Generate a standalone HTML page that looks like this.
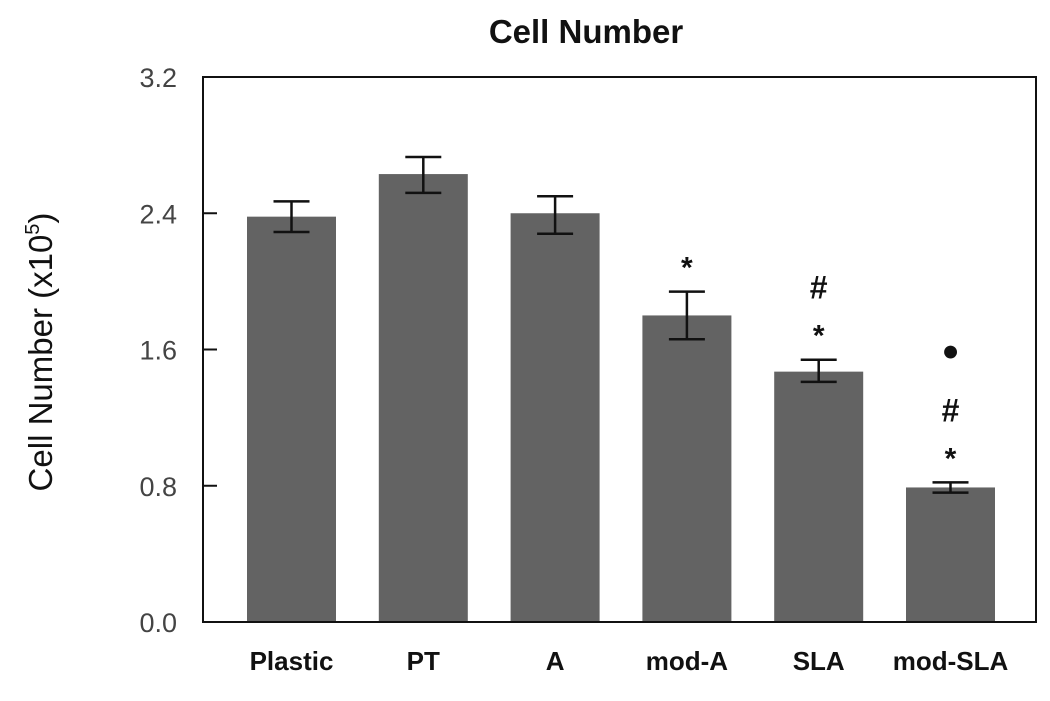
<!DOCTYPE html>
<html><head><meta charset="utf-8"><style>
body{margin:0;background:#fff;width:1050px;height:696px;overflow:hidden}
svg{font-family:"Liberation Sans",Arial,sans-serif}
</style></head><body>
<svg id="chart" width="1050" height="696" viewBox="0 0 1050 696">
<text x="586" y="43" text-anchor="middle" font-size="33" font-weight="bold" fill="#111">Cell Number</text>
<text transform="translate(52,352) rotate(-90)" text-anchor="middle" font-size="33" fill="#111">Cell Number (x10<tspan font-size="20" dy="-13">5</tspan><tspan dy="13">)</tspan></text>
<g id="plot"></g>
</svg>
<script>
const categories=["Plastic","PT","A","mod-A","SLA","mod-SLA"];
const values=[2.38,2.63,2.40,1.80,1.47,0.79];
const errUpper=[2.47,2.73,2.50,1.94,1.54,0.82];
const errLower=[2.29,2.52,2.28,1.66,1.41,0.76];
const marks=[[],[],[],["*"],["*","#"],["*","#","●"]];
const yTicks=[0.0,0.8,1.6,2.4,3.2];
const yTickLabels=["0.0","0.8","1.6","2.4","3.2"];
const NS="http://www.w3.org/2000/svg";
const L=203,R=1036,T=77,B=622,ymax=3.2;
const y=v=>B-(v/ymax)*(B-T);
const step=131.8,bw=89,x0=247;
const xc=i=>x0+bw/2+i*step;
const markOff={"*":0,"#":-47,"●":-108};
const g=document.getElementById('plot');
function mk(t,a){const e=document.createElementNS(NS,t);for(const k in a)e.setAttribute(k,a[k]);g.appendChild(e);return e;}
categories.forEach((c,i)=>{
 const b=mk('rect',{x:xc(i)-bw/2,y:y(values[i]),width:bw,height:B-y(values[i]),fill:'#636363'});
 
 
 const eg=mk('path',{d:`M${xc(i)} ${y(errUpper[i])}V${y(errLower[i])}M${xc(i)-18} ${y(errUpper[i])}h36M${xc(i)-18} ${y(errLower[i])}h36`,stroke:'#111','stroke-width':2.5,fill:'none'});
 
 
 const lb=mk('text',{x:xc(i),y:670,'text-anchor':'middle','font-size':26,'font-weight':'bold',fill:'#111'});
 lb.textContent=c;
 
 
 marks[i].forEach((m)=>{
  const ty=y(errUpper[i])-14+markOff[m];
  const t=mk('text',{x:xc(i),y:ty,'text-anchor':'middle','font-size':m==='●'?30:(m==='*'?30:32),'font-weight':'bold',fill:'#111'});
  t.textContent=m;
  
  
 });
});
const ax=mk('rect',{x:L,y:T,width:R-L,height:B-T,fill:'none',stroke:'#111','stroke-width':2});


yTicks.forEach((v,i)=>{
 const tk=mk('line',{x1:L,x2:L+14,y1:y(v),y2:y(v),stroke:'#111','stroke-width':2});
 
 
 const t=mk('text',{x:177,y:y(v)+10,'text-anchor':'end','font-size':27,fill:'#444'});
 t.textContent=yTickLabels[i];
 
 
});
</script>
</body></html>
